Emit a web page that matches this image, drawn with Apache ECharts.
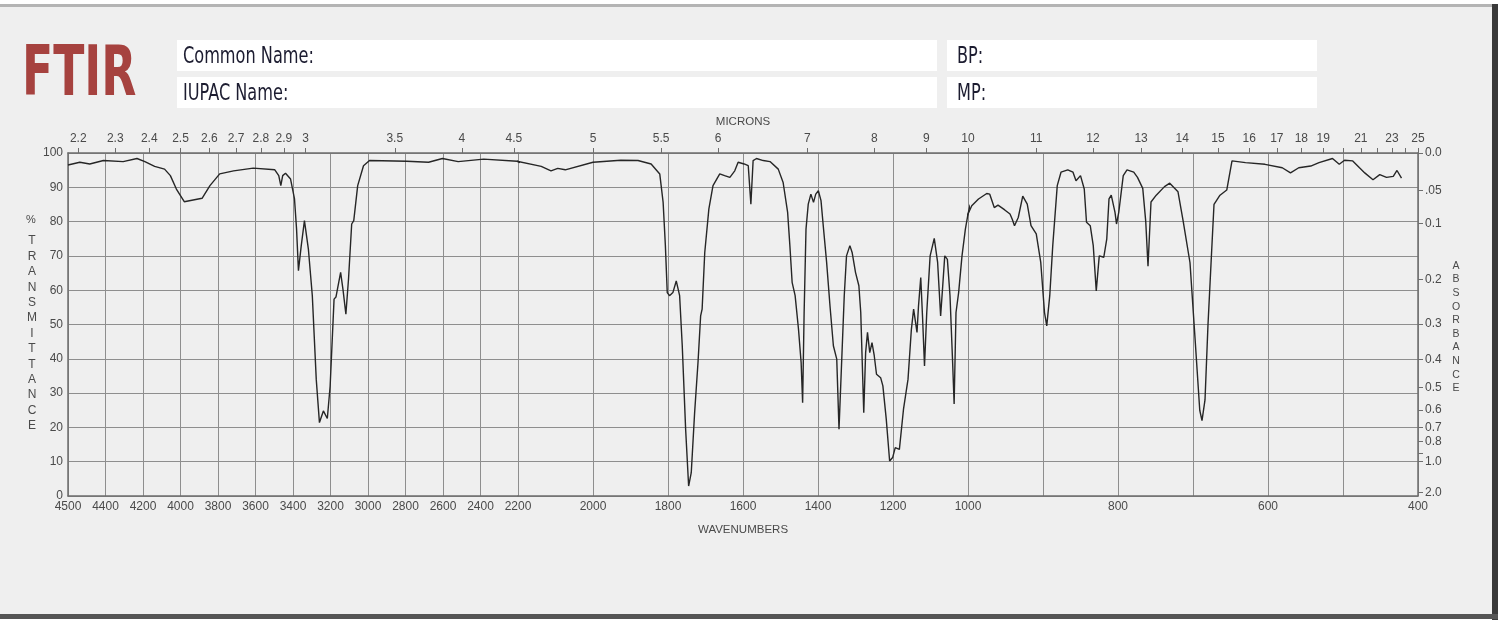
<!DOCTYPE html>
<html><head><meta charset="utf-8">
<script src="https://cdn.jsdelivr.net/npm/echarts@6/dist/echarts.min.js"></script>
<style>html,body{margin:0;padding:0;background:#fff}#c{width:1504px;height:626px}</style>
</head><body><div id="c"></div>
<script>
// ---- data (wavenumber in cm-1, % transmittance) ----
const wavenumbers = [4600,4537,4484,4411,4306,4232,4190,4138,4085,4054,4022,3980,3885,3843,3791,3717,3612,3497,3476,3465,3455,3440,3413,3392,3381,3371,3356,3339,3318,3297,3276,3259,3238,3217,3202,3181,3171,3146,3133,3118,3104,3087,3076,3055,3024,2992,2793,2677,2603,2519,2383,2204,2138,2112,2094,2074,2000,1926,1880,1845,1822,1813,1807,1802,1796,1787,1778,1769,1762,1753,1745,1738,1729,1720,1713,1709,1702,1691,1680,1662,1649,1635,1622,1613,1597,1586,1579,1573,1564,1546,1528,1506,1493,1481,1475,1469,1461,1452,1445,1441,1437,1432,1426,1419,1412,1406,1399,1392,1386,1377,1368,1359,1350,1344,1337,1330,1324,1315,1309,1300,1291,1286,1282,1278,1273,1268,1262,1256,1250,1244,1233,1227,1218,1209,1201,1194,1183,1172,1160,1151,1145,1136,1132,1126,1121,1116,1110,1101,1090,1081,1073,1068,1062,1055,1048,1041,1037,1032,1025,1016,1007,1000,995,986,975,971,965,960,951,944,941,938,933,927,921,916,909,903,898,895,891,887,881,876,867,860,856,850,845,842,837,833,829,825,819,815,812,809,804,802,799,793,788,779,774,767,763,760,756,749,738,731,720,713,704,697,691,688,684,680,675,672,664,655,648,646,630,604,581,570,559,543,532,514,505,498,487,478,471,460,451,442,433,428,422];
const transmittance = [96.5,97.3,96.8,97.8,97.5,98.4,97.5,96.1,95.3,93.4,89.5,85.8,86.8,90.5,93.9,94.8,95.6,95.1,93.4,90.5,93.4,94.1,92.4,86.6,77.8,65.7,73,80.3,72,58.4,34,21.4,24.8,22.6,32,57.4,58,65.2,60,53,63.2,79.3,80.3,90.5,96.3,97.8,97.6,97.3,98.4,97.5,98.2,97.6,96.1,94.8,95.5,95.1,97.3,97.9,97.8,96.8,93.9,85.6,73,59.3,58.4,59.3,62.7,58.4,43.8,19.5,2.9,6.8,24.3,38.9,52.5,54.5,71,83.7,90.5,93.9,93.4,92.9,94.8,97.3,96.8,96.3,85.1,97.8,98.4,97.8,97.5,95.3,91.4,82.7,73,62.3,58.4,48.6,38.9,27.2,53.5,77.8,85.1,88,85.6,88,89,86.1,78.8,68.1,55.4,43.8,39.9,19.5,38.9,58.4,70,73,71,65.2,61.3,53.5,38.9,24.3,41.8,47.7,41.8,44.7,40.9,35.5,34.5,32.1,22.4,10.2,11.2,14.1,13.6,25.3,34,48.6,54.5,47.7,55.4,63.7,51.6,37.9,53.5,70,75.1,68.1,52.5,60.3,70,69,58.4,38.9,26.8,53.5,59.3,70,77.8,82.2,84.6,86.6,88.2,88,84.1,84.8,83.4,82.2,80.7,78.8,81.2,87.4,85.1,78.8,76.4,68.1,53.5,49.6,58.4,73,90.5,94.4,95.1,94.4,91.9,93.4,89.5,79.8,78.8,73,59.8,70,69.6,74.9,86.6,87.7,82.7,79.3,82.7,93.4,95.1,94.4,92.9,89.7,80,67,85.7,87.7,90.2,91.2,88.7,80,68,45,25,22,28,50,72,85,87.7,89.2,97.7,97.9,97.2,96.7,95.7,94.2,95.7,96.2,97.2,98.4,96.7,97.9,97.7,95.7,94.2,92.2,93.7,92.9,93.2,94.9,92.7];

// axis ticks / labels
const panelRanges = [[2200, 4600, 200], [1000, 2200, 200], [400, 1000, 100]];
const axisStartLabel = '4500';
const micronLabels = [2.2,2.3,2.4,2.5,2.6,2.7,2.8,2.9,3,3.5,4,4.5,5,5.5,6,7,8,9,10,11,12,13,14,15,16,17,18,19,21,23,25];
const micronMinor = [20,22,24];
const absorbanceValues = [0,0.05,0.1,0.2,0.3,0.4,0.5,0.6,0.7,0.8,1.0,2.0];
const absorbanceText = ['0.0','.05','0.1','0.2','0.3','0.4','0.5','0.6','0.7','0.8','1.0','2.0'];
const absorbanceMinor = [0.9];

const seriesData = wavenumbers.map((w, i) => [w, transmittance[i]]);

const TXT = '#4a4a4a', GRID = '#8e8e8e', AXIS = '#6e6e6e';
const FONT = 'Liberation Sans, Arial, sans-serif';
const tickFont = {color: TXT, fontSize: 12, fontFamily: FONT};
const L = 68, W = 450, TOP = 153, H = 343;

function inPanel(p, v) {
  const [mn, mx] = panelRanges[p];
  if (p === 0) return v > mn && v <= mx;
  if (p === 1) return v >= mn && v <= mx;
  return v >= mn && v < mx;
}
function micronText(v) {
  const m = 10000 / v;
  let best = micronLabels[0];
  micronLabels.forEach(x => { if (Math.abs(x - m) < Math.abs(best - m)) best = x; });
  return String(best);
}
function bottomText(p, v) {
  if (p === 0) return v === 4600 ? axisStartLabel : String(v);
  if (p === 1) return v === 2200 ? '' : String(v);
  return (v === 1000 || v % 200 !== 0) ? '' : String(v);
}

const grids = [], xAxes = [], yAxes = [], series = [];
panelRanges.forEach(([mn, mx, step], p) => {
  grids.push({left: L + p * W, top: TOP, width: W, height: H, containLabel: false});
  xAxes.push({
    type: 'value', gridIndex: p, min: mn, max: mx, interval: step, inverse: true, position: 'bottom',
    axisLine: {show: true, onZero: false, lineStyle: {color: AXIS, width: 1.5}},
    axisTick: {show: false},
    splitLine: {show: true, lineStyle: {color: GRID, width: 1}},
    axisLabel: Object.assign({margin: 5, hideOverlap: false, showMinLabel: true, showMaxLabel: true,
      formatter: v => bottomText(p, v)}, tickFont),
    name: p === 1 ? 'WAVENUMBERS' : '', nameLocation: 'middle', nameGap: 28,
    nameTextStyle: {color: TXT, fontSize: 11.5, fontFamily: FONT}
  });
  const mVals = micronLabels.map(m => 10000 / m).filter(v => inPanel(p, v));
  const mTicks = micronLabels.concat(micronMinor).map(m => 10000 / m).filter(v => inPanel(p, v));
  xAxes.push({
    type: 'value', gridIndex: p, min: mn, max: mx, inverse: true, position: 'top',
    axisLine: {show: true, onZero: false, lineStyle: {color: AXIS, width: 1.5}},
    axisTick: {show: true, inside: false, length: 5, customValues: mTicks, lineStyle: {color: AXIS, width: 1}},
    splitLine: {show: false},
    axisLabel: Object.assign({margin: 8, hideOverlap: false, customValues: mVals, formatter: v => micronText(v)}, tickFont),
    name: p === 1 ? 'MICRONS' : '', nameLocation: 'middle', nameGap: 24,
    nameTextStyle: {color: TXT, fontSize: 11.5, fontFamily: FONT}
  });
  yAxes.push({
    type: 'value', gridIndex: p, min: 0, max: 100, interval: 10, position: 'left',
    axisLine: {show: p === 0, onZero: false, lineStyle: {color: AXIS, width: 1.5}},
    axisTick: {show: false},
    splitLine: {show: true, lineStyle: {color: GRID, width: 1}},
    axisLabel: Object.assign({show: p === 0, margin: 5}, tickFont)
  });
  series.push({
    type: 'line', xAxisIndex: p * 2, yAxisIndex: p, data: seriesData, clip: true,
    showSymbol: false, symbol: 'none', smooth: false,
    lineStyle: {color: '#262626', width: 1.4}, z: 5
  });
});
// right absorbance axis
const absTickPos = absorbanceValues.concat(absorbanceMinor).map(a => 100 * Math.pow(10, -a));
const absLabelPos = absorbanceValues.map(a => 100 * Math.pow(10, -a));
yAxes.push({
  type: 'value', gridIndex: 2, min: 0, max: 100, position: 'right',
  axisLine: {show: true, onZero: false, lineStyle: {color: AXIS, width: 1.5}},
  axisTick: {show: true, inside: false, length: 5, customValues: absTickPos, lineStyle: {color: AXIS, width: 1}},
  splitLine: {show: false},
  axisLabel: Object.assign({margin: 7, hideOverlap: false, customValues: absLabelPos, formatter: v => {
    let bi = 0;
    absLabelPos.forEach((x, i) => { if (Math.abs(x - v) < Math.abs(absLabelPos[bi] - v)) bi = i; });
    return absorbanceText[bi];
  }}, tickFont)
});

const narrow = '"Liberation Sans Narrow", "DejaVu Sans Condensed", "Arial Narrow", sans-serif';
const headText = (x, y, t) => ({type: 'text', x: x, y: y, scaleX: 0.78,
  style: {text: t, fill: '#1c1c30', font: '23px ' + narrow, textVerticalAlign: 'middle'}});
const graphic = [
  {type: 'rect', z: -100, shape: {x: 0, y: 5, width: 1494, height: 611}, style: {fill: '#efefef'}},
  {type: 'rect', z: -99, shape: {x: 0, y: 4, width: 1494, height: 3}, style: {fill: '#b4b4b4'}},
  {type: 'rect', z: -99, shape: {x: 1492, y: 4, width: 6, height: 616}, style: {fill: '#3a3a3a'}},
  {type: 'rect', z: -99, shape: {x: 0, y: 614, width: 1498, height: 5}, style: {fill: '#555555'}},
  {type: 'text', x: 22, y: 77, scaleX: 0.725,
    style: {text: 'FTIR', fill: '#a6423f', font: 'bold 70px ' + narrow, textVerticalAlign: 'middle'}},
  {type: 'rect', shape: {x: 177, y: 40, width: 760, height: 31}, style: {fill: '#ffffff'}},
  {type: 'rect', shape: {x: 177, y: 77, width: 760, height: 31}, style: {fill: '#ffffff'}},
  {type: 'rect', shape: {x: 947, y: 40, width: 370, height: 31}, style: {fill: '#ffffff'}},
  {type: 'rect', shape: {x: 947, y: 77, width: 370, height: 31}, style: {fill: '#ffffff'}},
  headText(183, 57, 'Common Name:'),
  headText(183, 94, 'IUPAC Name:'),
  headText(957, 57, 'BP:'),
  headText(957, 94, 'MP:'),
  {type: 'text', x: 31, y: 220, style: {text: '%', fill: TXT, font: '11px ' + FONT,
    textAlign: 'center', textVerticalAlign: 'middle'}},
  {type: 'text', x: 32, y: 233.3, style: {text: 'TRANSMITTANCE'.split('').join('\n'), fill: TXT,
    font: '12px ' + FONT, lineHeight: 15.4, textAlign: 'center', textVerticalAlign: 'top'}},
  {type: 'text', x: 1456, y: 259.2, style: {text: 'ABSORBANCE'.split('').join('\n'), fill: TXT,
    font: '10.5px ' + FONT, lineHeight: 13.6, textAlign: 'center', textVerticalAlign: 'top'}}
];

const chart = echarts.init(document.getElementById('c'), null, {renderer: 'canvas'});
chart.setOption({
  backgroundColor: '#ffffff', animation: false,
  grid: grids, xAxis: xAxes, yAxis: yAxes, series: series, graphic: graphic
});
</script></body></html>
